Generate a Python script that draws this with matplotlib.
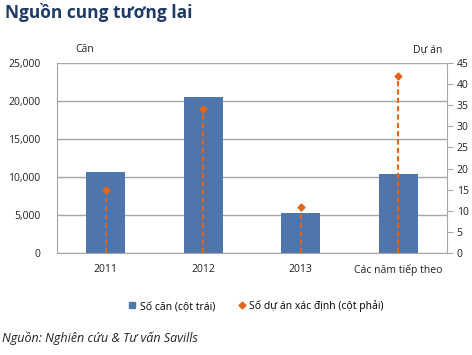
import matplotlib
matplotlib.use("Agg")
import matplotlib.pyplot as plt
import numpy as np
from matplotlib.lines import Line2D

plt.rcParams['font.family'] = ['Open Sans', 'DejaVu Sans']

categories = ['2011', '2012', '2013', 'Các năm tiếp theo']
units = [10700, 20500, 5200, 10400]
projects = [15, 34, 11, 42]

bar_color = '#4F76AA'
dot_color = '#E2661A'
grid_color = '#A6A6A6'

fig = plt.figure(figsize=(4.72, 3.55), dpi=100)
ax = fig.add_axes([57 / 472, 1 - 253 / 355, 390 / 472, 190 / 355])
x = np.arange(len(categories))

ax.bar(x, units, width=0.4, color=bar_color, zorder=2)
ax.set_ylim(0, 25000)
ax.set_xlim(-0.5, len(categories) - 0.5)
ax.set_yticks(np.arange(0, 25001, 5000))
ax.set_yticklabels([f'{v:,}' for v in range(0, 25001, 5000)])
ax.set_xticks(x)
ax.set_xticklabels(categories)
ax.yaxis.grid(True, color=grid_color, linewidth=1)
ax.set_axisbelow(True)
ax.tick_params(axis='y', length=0, labelsize=7.5, pad=12, colors='#222222')
ax.tick_params(axis='x', length=0, labelsize=7.5, pad=8, colors='#222222')
for s in ['top', 'right']:
    ax.spines[s].set_visible(False)
ax.spines['left'].set_color(grid_color)
ax.spines['bottom'].set_color(grid_color)

ax2 = ax.twinx()
ax2.set_ylim(0, 45)
ax2.set_yticks(np.arange(0, 46, 5))
ax2.vlines(x, 0, projects, colors=dot_color, linestyles=(0, (2.5, 1.5)), linewidth=1.5, zorder=3)
ax2.plot(x, projects, linestyle='none', marker='D', markersize=3.5, color=dot_color, zorder=4)
ax2.tick_params(axis='y', length=4, colors=grid_color, labelcolor='#222222', labelsize=7.5, pad=3)
for s in ['top', 'left', 'bottom']:
    ax2.spines[s].set_visible(False)
ax2.spines['right'].set_color(grid_color)

fig.text(5 / 472, 1 - 12 / 355, 'Nguồn cung tương lai', fontsize=12.5, fontweight='bold',
         color='#1F3A64', va='center', ha='left')
fig.text(85 / 472, 1 - 50 / 355, 'Căn', fontsize=7.5, va='center', ha='center', color='#222222')
fig.text(428 / 472, 1 - 50 / 355, 'Dự án', fontsize=7.5, va='center', ha='center', color='#222222')

handles = [
    Line2D([], [], linestyle='none', marker='s', markersize=5, color=bar_color),
    Line2D([], [], linestyle='none', marker='D', markersize=3.5, color=dot_color),
]
fig.legend(handles, ['Số căn (cột trái)', 'Số dự án xác định (cột phải)'],
           loc='center', bbox_to_anchor=(256 / 472, 1 - 306 / 355), ncol=2, frameon=False,
           fontsize=7.5, handlelength=0.8, handletextpad=0.3, columnspacing=2.2)

fig.text(2 / 472, 1 - 338 / 355, 'Nguồn: Nghiên cứu & Tư vấn Savills', fontsize=9,
         style='italic', va='center', ha='left', color='#222222')

fig.savefig('out.png', dpi=100)
